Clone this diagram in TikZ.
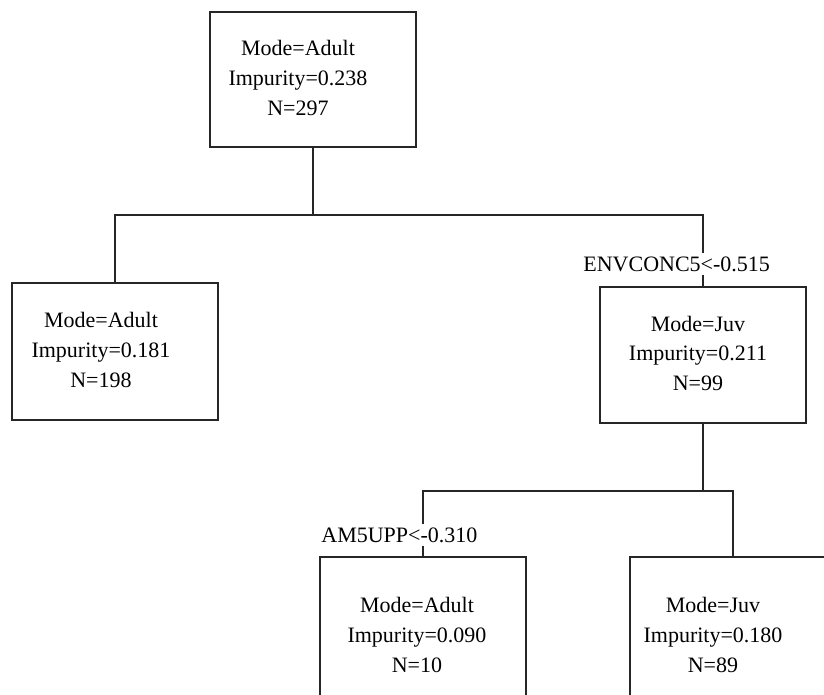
\documentclass[tikz,border=0pt]{standalone}
\usepackage{fontspec}
\setmainfont{Liberation Serif}
\usepackage{tikz}
\usetikzlibrary{positioning}

\newcommand{\leafinfo}[4]{\begin{tabular}{@{}c@{}}Mode=#1\\Impurity=#2\\N=#3\end{tabular}\rule{#4}{0pt}}

\tikzset{
  leaf/.style={draw=black!85, line width=0.65pt, minimum width=103pt, minimum height=67.5pt,
    inner sep=0pt, font=\fontsize{11}{15}\selectfont},
  rule/.style={inner sep=1.5pt, font=\fontsize{11}{13}\selectfont},
  wire/.style={draw=black!85, line width=0.65pt},
}

\begin{document}
\begin{tikzpicture}[x=0.5pt, y=-0.5pt]
  \useasboundingbox (0,0) rectangle (824,695);
  \clip (0,0) rectangle (824,695);

  % root
  \node[leaf] (root) at (313,79.5) {\leafinfo{Adult}{0.238}{297}{15pt}};
  \coordinate (fork1) at (313,215);

  % first split
  \node[leaf, minimum height=68.5pt] (adult1) at (115,351.5) {\leafinfo{Adult}{0.181}{198}{14pt}};
  \node[leaf, minimum height=68pt] (juv1) at (703,355) {\leafinfo{Juv}{0.211}{99}{5pt}};
  \node[rule, anchor=west] (cut1) at (580,264) {ENVCONC5<-0.515};

  \draw[wire] (root.south) -- (fork1);
  \draw[wire] (adult1.north) |- (juv1.north |- fork1) -- (juv1.north |- cut1.north);
  \draw[wire] (juv1.north |- cut1.south) -- (juv1.north);

  % second split
  \coordinate (fork2) at (703,491);
  \node[leaf, minimum height=79pt] (adult2) at (423,636) {\leafinfo{Adult}{0.090}{10}{6pt}};
  \node[leaf, minimum height=79pt] (juv2) at (733,636) {\leafinfo{Juv}{0.180}{89}{20pt}};
  \node[rule, anchor=west] (cut2) at (318,535) {AM5UPP<-0.310};

  \draw[wire] (juv1.south) -- (fork2);
  \draw[wire] (adult2.north |- cut2.north) |- (juv2.north |- fork2) -- (juv2.north);
  \draw[wire] (adult2.north |- cut2.south) -- (adult2.north);
\end{tikzpicture}
\end{document}
